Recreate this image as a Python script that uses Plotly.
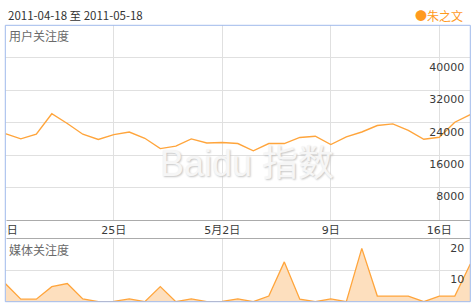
import plotly.graph_objects as go
import pandas as pd

# ---- data ----
start_date = "2011-04-18"
end_date = "2011-05-18"
dates = pd.date_range(start_date, end_date, freq="D")
user_attention = [21300, 20000, 21150, 26200, 23800, 21150, 19850, 21050, 21700, 20150,
                  17600, 18200, 20000, 19000, 19100, 18850, 17050, 18850, 18850, 20350,
                  20650, 18600, 20500, 21700, 23300, 23700, 22100, 19900, 20400, 24100, 26000]
media_attention = [5.8, 0.8, 0.8, 4.8, 5.8, 0.9, 0.0, 0.1, 0.9, 0.0,
                   4.8, 0.0, 0.9, 0.0, 0.1, 0.9, 0.0, 1.8, 12.7, 0.8,
                   0.0, 0.9, 0.0, 17.0, 1.8, 1.8, 1.8, 0.0, 1.8, 1.8, 12.0]
x_tick_dates = ["2011-04-18", "2011-04-25", "2011-05-02", "2011-05-09", "2011-05-16"]
x_tick_labels = ["18日", "25日", "5月2日", "9日", "16日"]
user_ticks = [8000, 16000, 24000, 32000, 40000]
media_ticks = [10, 20]
series_name = "朱之文"
title_text = "2011-04-18 至 2011-05-18"
panel1_title = "用户关注度"
panel2_title = "媒体关注度"

# ---- layout geometry (pixels) ----
W, H = 475, 307
L, R = 5.3, 470.3
T1, B1 = 25.3, 220.0
T2, B2 = 239.0, 301.7


def fx(p):
    return p / W


def fy(p):
    return 1 - p / H


ORANGE = "#FFA53C"
FILL = "#FDDFBE"
GRID = "#E0E0E0"
AXIS = "#ABABAB"
FRAME = "#9FB9EC"
TICKFONT = dict(family="DejaVu Sans, Noto Sans CJK SC", size=11, color="#3a3a3a")
CJK = "Noto Sans CJK SC, DejaVu Sans"

fig = go.Figure()
fig.add_trace(go.Scatter(x=dates, y=user_attention, mode="lines",
                         line=dict(color=ORANGE, width=1.4),
                         xaxis="x", yaxis="y", name=series_name, hoverinfo="skip"))
fig.add_trace(go.Scatter(x=dates, y=media_attention, mode="lines", fill="tozeroy",
                         fillcolor=FILL, line=dict(color=ORANGE, width=1.3),
                         xaxis="x2", yaxis="y2", name=series_name, hoverinfo="skip"))

xcommon = dict(domain=[fx(L), fx(R)], range=[start_date, end_date], automargin=False,
               tickmode="array", tickvals=x_tick_dates, ticktext=x_tick_labels,
               showgrid=True, gridcolor=GRID, gridwidth=1, zeroline=False, ticks="")
ycommon = dict(side="right", ticklabelposition="inside", showgrid=True, gridcolor=GRID,
               gridwidth=1, zeroline=False, ticks="", showline=False, automargin=False,
               tickfont=TICKFONT, ticklabelshift=9, ticklabelstandoff=3,
               ticklabeloverflow="allow", tickformat="d", tickmode="array")

fig.update_layout(
    width=W, height=H, margin=dict(l=0, r=0, t=0, b=0, pad=0, autoexpand=False),
    paper_bgcolor="white", plot_bgcolor="white", showlegend=False,
    xaxis=dict(**xcommon, anchor="y", showline=True, linecolor=AXIS, linewidth=1,
               tickfont=TICKFONT, ticklabeloverflow="allow"),
    xaxis2=dict(**xcommon, anchor="y2", matches="x", showticklabels=False,
                side="top", showline=True, linecolor=AXIS, linewidth=1),
    yaxis=dict(**ycommon, domain=[fy(B1), fy(T1)], range=[0, 48000], tickvals=user_ticks),
    yaxis2=dict(**ycommon, domain=[fy(B2), fy(T2)], range=[0, 20], tickvals=media_ticks),
)

annotations = [
    dict(text=title_text, x=fx(6), y=fy(15), xanchor="left", yanchor="middle",
         font=dict(family=CJK, size=11.5, color="#333333")),
    dict(text="<span style='font-size:12px'>●</span>" + series_name, x=fx(465), y=fy(15),
         xanchor="right", yanchor="middle", font=dict(family=CJK, size=12, color="#FF9A1E")),
    dict(text=panel1_title, x=fx(7), y=fy(35), xanchor="left", yanchor="middle",
         font=dict(family=CJK, size=12, color="#6a6a6a")),
    dict(text=panel2_title, x=fx(7), y=fy(249), xanchor="left", yanchor="middle",
         font=dict(family=CJK, size=12, color="#6a6a6a")),
    dict(text="Baidu 指数", x=fx(247), y=fy(163), xanchor="center", yanchor="middle",
         font=dict(family="Liberation Sans, Noto Sans CJK SC", size=36, color="#f6f6f6",
                   shadow="1px 1px 2px #c4c4c4")),
]
for a in annotations:
    a.update(xref="paper", yref="paper", showarrow=False)
fig.update_layout(annotations=annotations)

fig.update_layout(shapes=[
    dict(type="rect", xref="paper", yref="paper", x0=0, x1=fx(L + 1.2), y0=fy(T2), y1=fy(B1),
         fillcolor="white", line=dict(width=0), layer="above"),
    dict(type="rect", xref="paper", yref="paper", x0=0, x1=fx(L), y0=fy(B2), y1=fy(T1),
         fillcolor="white", line=dict(width=0), layer="above"),
    dict(type="rect", xref="paper", yref="paper", x0=fx(L), x1=fx(R), y0=fy(B2), y1=fy(T1),
         line=dict(color=FRAME, width=1), fillcolor="rgba(0,0,0,0)", layer="above"),
])

fig.write_html("out.html")
